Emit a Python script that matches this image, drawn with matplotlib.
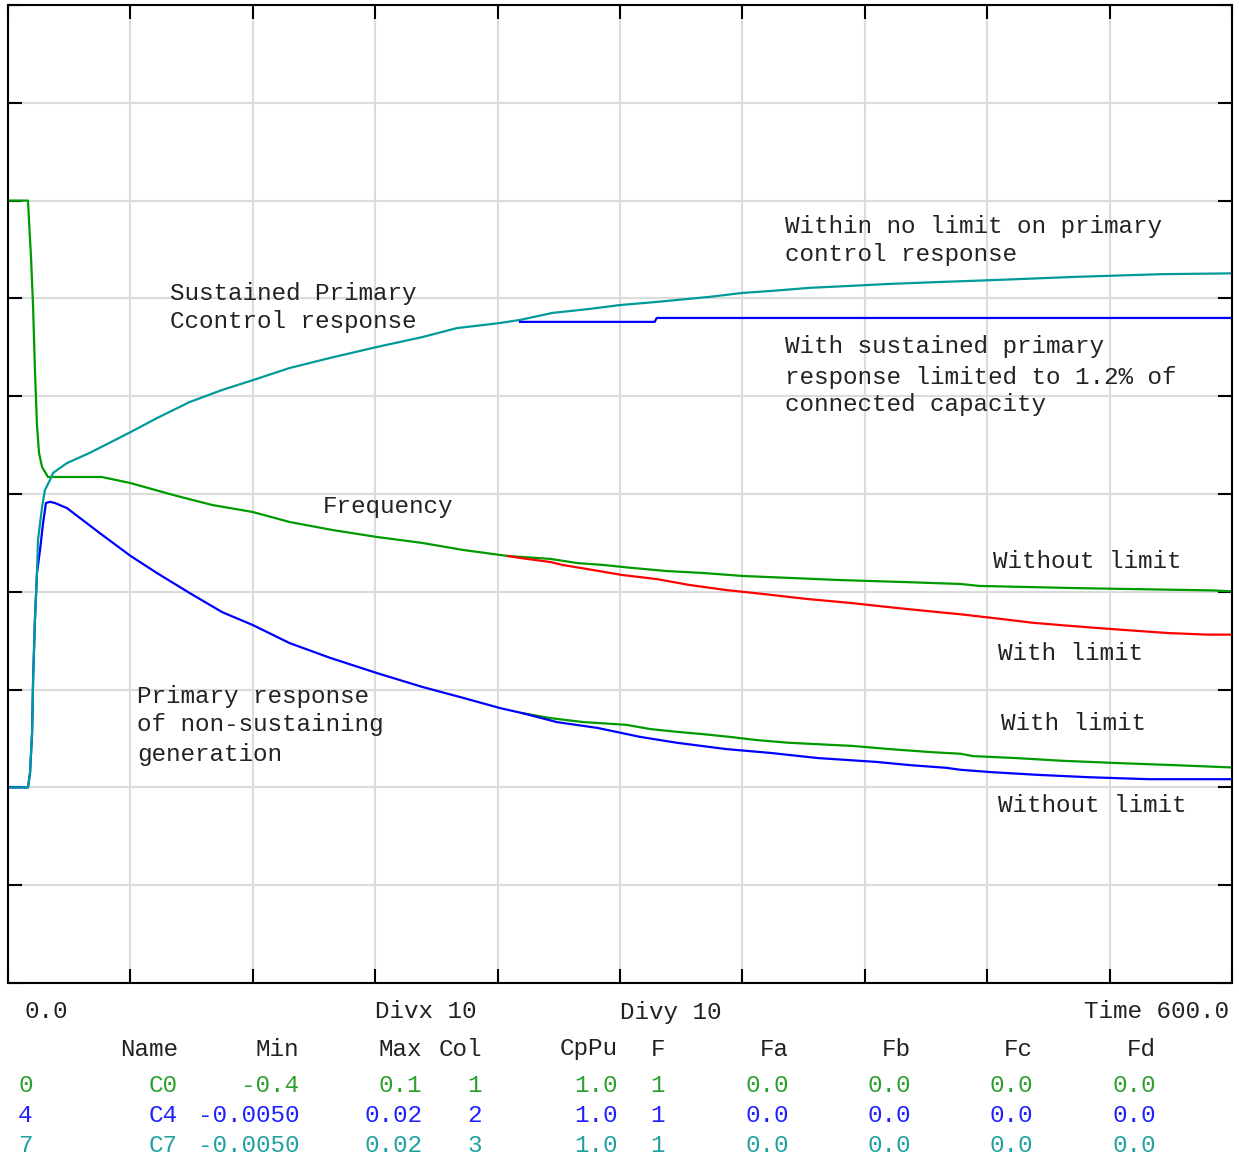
import matplotlib.pyplot as plt
import numpy as np

W, H = 1239, 1156
FONT = "Liberation Mono"

# channel table shown under the recorder screen
chan_ids = ["0", "4", "7"]
chan_names = ["C0", "C4", "C7"]
chan_min = [-0.4, -0.0050, -0.0050]
chan_max = [0.1, 0.02, 0.02]
chan_min_txt = ["-0.4", "-0.0050", "-0.0050"]
chan_max_txt = ["0.1", "0.02", "0.02"]
chan_col = ["1", "2", "3"]
chan_cppu = ["1.0", "1.0", "1.0"]
chan_f = ["1", "1", "1"]
chan_fa = ["0.0", "0.0", "0.0"]
chan_fb = ["0.0", "0.0", "0.0"]
chan_fc = ["0.0", "0.0", "0.0"]
chan_fd = ["0.0", "0.0", "0.0"]
chan_text_colors = ["#2ca02c", "#2020ff", "#20a0a0"]

# C0 - frequency deviation, without limit
freq_t = [0, 9.8, 10.3, 11.3, 12.3, 13.2, 14.2, 15.2, 16.7, 19.6, 46, 60, 81, 100,
          120, 138, 159, 181, 203, 223, 245, 266, 279, 292, 306, 323, 341, 360,
          383, 408, 439, 467, 476, 523, 591, 600]
freq_v = [0.0, 0.0, -0.0104, -0.0293, -0.0544, -0.0866, -0.1147, -0.1290, -0.1362,
          -0.1413, -0.1413, -0.1444, -0.1505, -0.1556, -0.1592, -0.1643, -0.1684,
          -0.1720, -0.1750, -0.1786, -0.1817, -0.1832, -0.1853, -0.1863, -0.1878,
          -0.1894, -0.1904, -0.1919, -0.1929, -0.1940, -0.1950, -0.1960, -0.1970,
          -0.1981, -0.1993, -0.1998]

# C0 - frequency deviation, with limit (red)
freq_lim_t = [245, 251, 266, 272, 287, 301, 318, 334, 352, 370, 392, 413, 436, 460,
              467, 487, 502, 518, 534, 551, 569, 588, 600]
freq_lim_v = [-0.1817, -0.1827, -0.1848, -0.1863, -0.1889, -0.1914, -0.1935, -0.1965,
              -0.1991, -0.2011, -0.2037, -0.2057, -0.2083, -0.2108, -0.2115, -0.2139,
              -0.2158, -0.2172, -0.2185, -0.2198, -0.2211, -0.2219, -0.2219]

# C7 - sustained primary control response, no limit (teal)
resp_t = [0, 9.8, 10.8, 11.8, 12.3, 13.2, 14.2, 14.7, 16.7, 18.1, 20.6, 22.1, 28.9,
          40, 60, 73, 89, 105, 120, 138, 158, 181, 203, 220, 241, 251, 267, 285,
          300, 318, 344, 360, 374, 393, 413, 432, 457, 484, 523, 566, 600]
resp_v = [0.0, 0.0, 0.00037, 0.00139, 0.00275, 0.00428, 0.00548, 0.00632, 0.00717,
          0.00760, 0.00786, 0.00804, 0.00829, 0.00855, 0.00908, 0.00944, 0.00985,
          0.01016, 0.01041, 0.01072, 0.01098, 0.01126, 0.01151, 0.01174, 0.01187,
          0.01195, 0.01213, 0.01223, 0.01233, 0.01241, 0.01254, 0.01264, 0.01269,
          0.01277, 0.01282, 0.01287, 0.01292, 0.01297, 0.01305, 0.01312, 0.01314]

# sustained response limited to 1.2 % of connected capacity (blue)
resp_lim_t = [251, 317, 318, 600]
resp_lim_v = [0.0119, 0.0119, 0.0120, 0.0120]

# C4 - primary response of non-sustaining generation, without limit (blue)
nons_t = [0, 9.8, 10.8, 11.8, 12.3, 13.2, 14.2, 15.7, 17.2, 18.6, 20.6, 23, 28.9,
          45, 60, 73, 89, 105, 120, 138, 158, 181, 203, 223, 241, 252, 269, 289,
          310, 328, 352, 374, 397, 426, 442, 460, 467, 482, 505, 530, 559, 600]
nons_v = [0.0, 0.0, 0.00037, 0.00139, 0.00275, 0.00428, 0.00548, 0.00607, 0.00676,
          0.00727, 0.00730, 0.00727, 0.00714, 0.00650, 0.00592, 0.00548, 0.00497,
          0.00448, 0.00415, 0.00369, 0.00331, 0.00292, 0.00257, 0.00229, 0.00203,
          0.00190, 0.00167, 0.00152, 0.00129, 0.00114, 0.00098, 0.00088, 0.00075,
          0.00065, 0.00057, 0.00050, 0.00045, 0.00039, 0.00032, 0.00026, 0.00021,
          0.00021]

# C4 - non-sustaining generation, with limit (green)
nons_lim_t = [252, 266, 282, 303, 315, 328, 341, 354, 367, 383, 414, 432, 453, 467,
              473, 494, 517, 545, 571, 600]
nons_lim_v = [0.00190, 0.00177, 0.00167, 0.00160, 0.00149, 0.00142, 0.00136,
              0.00129, 0.00121, 0.00114, 0.00106, 0.00098, 0.00090, 0.00086,
              0.00080, 0.00075, 0.00068, 0.00062, 0.00057, 0.00051]


def to_div(vals, ch):
    # recorder scaling: channel min..max spans the 10 vertical divisions
    v = np.asarray(vals)
    return (v - chan_min[ch]) / (chan_max[ch] - chan_min[ch]) * 10


fig = plt.figure(figsize=(W / 100, H / 100), dpi=100)
ax = fig.add_axes([8 / W, 1 - 983 / H, (1232 - 8) / W, (983 - 5) / H])

green = "#009a00"
teal = "#009a9a"
blue = "#0000ff"
red = "#ff0000"
lw = 1.6

ax.plot(freq_t, to_div(freq_v, 0), color=green, lw=lw)
ax.plot(freq_lim_t, to_div(freq_lim_v, 0), color=red, lw=lw)
ax.plot(nons_lim_t, to_div(nons_lim_v, 1), color=green, lw=lw)
ax.plot(nons_t, to_div(nons_v, 1), color=blue, lw=lw)
ax.plot(resp_t, to_div(resp_v, 2), color=teal, lw=lw)
ax.plot(resp_lim_t, to_div(resp_lim_v, 2), color=blue, lw=lw)

ax.set_xlim(0, 600)
ax.set_ylim(0, 10)
ax.set_xticks(np.arange(0, 601, 60))
ax.set_yticks(np.arange(0, 11, 1))
ax.grid(True, color="#dcdcdc", lw=1.5)
ax.set_axisbelow(True)
ax.tick_params(direction="in", length=10, width=1.5, color="black",
               top=True, right=True, labelbottom=False, labelleft=False)
for s in ax.spines.values():
    s.set_linewidth(1.5)
    s.set_color("black")


def px_text(x, y, s, ha="left", color="#222222"):
    fig.text(x / W, 1 - y / H, s, ha=ha, va="center", color=color,
             family=FONT, fontsize=17.5)


# annotations on the screen
notes = [
    ("Sustained Primary", 170, 293), ("Ccontrol response", 170, 322),
    ("Within no limit on primary", 785, 226), ("control response", 785, 254),
    ("With sustained primary", 785, 347), ("response limited to 1.2% of", 785, 377),
    ("connected capacity", 785, 405),
    ("Frequency", 323, 507),
    ("Without limit", 993, 561), ("With limit", 998, 654),
    ("Primary response", 137, 697), ("of non-sustaining", 137, 725),
    ("generation", 137, 754),
    ("With limit", 1001, 723), ("Without limit", 998, 805),
]
for s, x, y in notes:
    px_text(x, y, s)

# footer
px_text(24, 1012, "0.0")
px_text(375, 1012, "Divx 10")
px_text(620, 1012, "Divy 10")
px_text(1229, 1012, "Time 600.0", ha="right")

col_right = [178, 299, 422, 482, 618, 665, 789, 911, 1033, 1156]
headers = ["Name", "Min", "Max", "Col", "CpPu", "F", "Fa", "Fb", "Fc", "Fd"]
for h, x in zip(headers, col_right):
    px_text(x, 1049, h, ha="right")

row_y = [1085, 1115, 1145]
for i in range(3):
    cells = [chan_names[i], chan_min_txt[i], chan_max_txt[i], chan_col[i],
             chan_cppu[i], chan_f[i], chan_fa[i], chan_fb[i], chan_fc[i], chan_fd[i]]
    c = chan_text_colors[i]
    px_text(18, row_y[i], chan_ids[i], color=c)
    for s, x in zip(cells, col_right):
        px_text(x, row_y[i], s, ha="right", color=c)

fig.savefig("out.png", dpi=100)
